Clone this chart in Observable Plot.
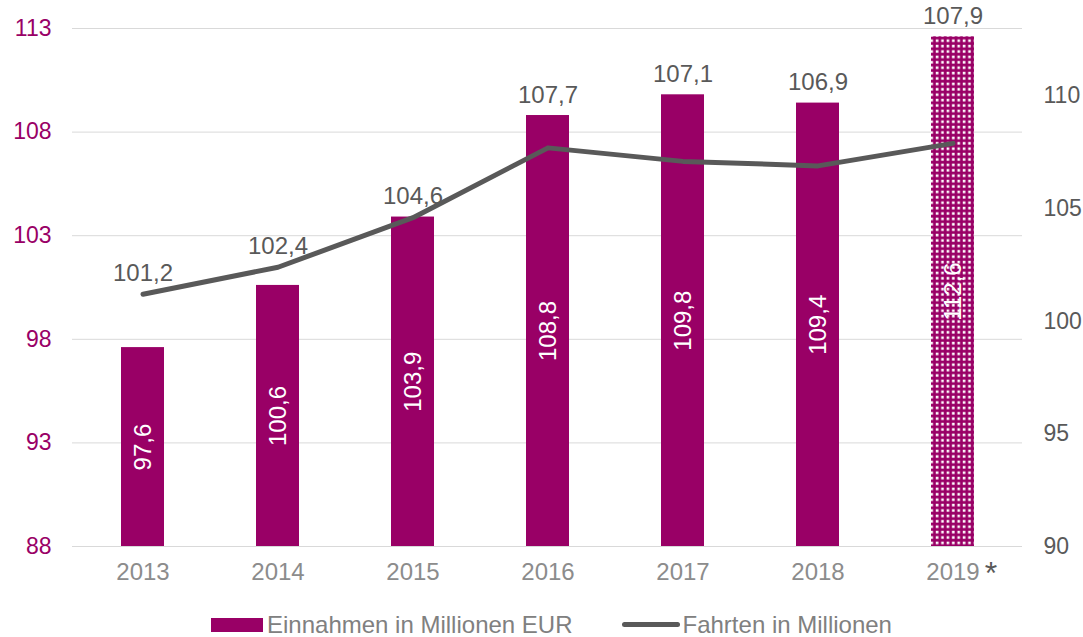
<!DOCTYPE html>
<html>
<head>
<meta charset="utf-8">
<script src="https://cdn.jsdelivr.net/npm/d3@7"></script>
<script src="https://cdn.jsdelivr.net/npm/@observablehq/plot@0.6"></script>
<style>
  html, body { margin: 0; padding: 0; background: #fff; }
  body { width: 1083px; height: 637px; overflow: hidden; font-family: "Liberation Sans", Arial, sans-serif; }
  #legend { height: 37px; display: flex; align-items: center; justify-content: center; padding-left: 20px; padding-top: 12px; box-sizing: border-box; font-size: 24px; color: #808080; }
  .item { display: flex; align-items: center; }
  .sw-bar { width: 52px; height: 14px; background: #990066; margin-right: 4px; }
  .sw-line { width: 58px; height: 5px; background: #595959; border-radius: 3px; margin-right: 3px; }
</style>
</head>
<body>
<div id="chart"></div>
<div id="legend">
  <div class="item"><div class="sw-bar"></div><span>Einnahmen in Millionen EUR</span></div>
  <div class="item" style="margin-left:49px"><div class="sw-line"></div><span>Fahrten in Millionen</span></div>
</div>
<script>
const years = ["2013", "2014", "2015", "2016", "2017", "2018", "2019"];
const einnahmen = [97.6, 100.6, 103.9, 108.8, 109.8, 109.4, 112.6];
const fahrten = [101.2, 102.4, 104.6, 107.7, 107.1, 106.9, 107.9];
const leftTicks = [88, 93, 98, 103, 108, 113];
const rightTicks = [90, 95, 100, 105, 110];

const leftDomain = [88, 113];
const rightDomain = [90, 113];
const toLeft = v => leftDomain[0] + (v - rightDomain[0]) * (leftDomain[1] - leftDomain[0]) / (rightDomain[1] - rightDomain[0]);
const fromLeft = v => rightDomain[0] + (v - leftDomain[0]) * (rightDomain[1] - rightDomain[0]) / (leftDomain[1] - leftDomain[0]);
const fmt = v => v.toFixed(1).replace(".", ",");

const data = years.map((year, i) => ({
  year,
  einnahmen: einnahmen[i],
  fahrten: fahrten[i],
  fahrtenL: toLeft(fahrten[i]),
  projected: year === "2019"
}));

const purple = "#990066";
const dark = "#595959";

const chart = Plot.plot({
  width: 1083,
  height: 600,
  marginLeft: 72,
  marginRight: 61,
  marginTop: 28,
  marginBottom: 54,
  style: { fontFamily: "Liberation Sans, Arial, sans-serif", fontSize: "24px", background: "#fff" },
  x: { domain: years, paddingInner: 0.685, paddingOuter: 0.3425, label: null },
  y: { domain: leftDomain, label: null },
  marks: [
    Plot.ruleY(leftTicks, { stroke: "#d9d9d9", strokeWidth: 1 }),
    Plot.axisY({ ticks: leftTicks, anchor: "left", tickSize: 0, tickPadding: 21, color: purple, label: null, fontSize: 23 }),
    Plot.axisY({ ticks: rightTicks.map(toLeft), tickFormat: d => String(Math.round(fromLeft(d))), anchor: "right", tickSize: 0, tickPadding: 21, color: dark, label: null, fontSize: 23 }),
    Plot.axisX({ tickSize: 0, tickPadding: 16, color: "#8c8c8c", label: null, fontSize: 24 }),
    Plot.barY(data, { x: "year", y1: leftDomain[0], y2: "einnahmen", fill: d => d.projected ? "url(#dots2019)" : purple }),
    Plot.text(data, { x: "year", y: d => (d.einnahmen + leftDomain[0]) / 2, text: d => fmt(d.einnahmen), rotate: -90, fill: "white", fontSize: 24 }),
    Plot.line(data, { x: "year", y: "fahrtenL", stroke: dark, strokeWidth: 5, curve: "linear" }),
    Plot.text(data, { x: "year", y: d => Math.max(d.einnahmen, d.fahrtenL), text: d => fmt(d.fahrten), lineAnchor: "bottom", dy: -13, fill: dark, fontSize: 24 }),
    Plot.text(data.filter(d => d.projected), { x: "year", y: leftDomain[0], text: () => "*", dx: 38, dy: 27, fill: dark, fontSize: 32 })
  ]
});

const ns = "http://www.w3.org/2000/svg";
const defs = document.createElementNS(ns, "defs");
defs.innerHTML = `<pattern id="dots2019" patternUnits="userSpaceOnUse" width="5.4" height="5.4">
  <rect width="5.4" height="5.4" fill="${purple}"></rect>
  <rect x="1.6" y="1.6" width="2.6" height="2.6" fill="#ffffff"></rect>
</pattern>`;
chart.insertBefore(defs, chart.firstChild);
document.getElementById("chart").appendChild(chart);
</script>
</body>
</html>
